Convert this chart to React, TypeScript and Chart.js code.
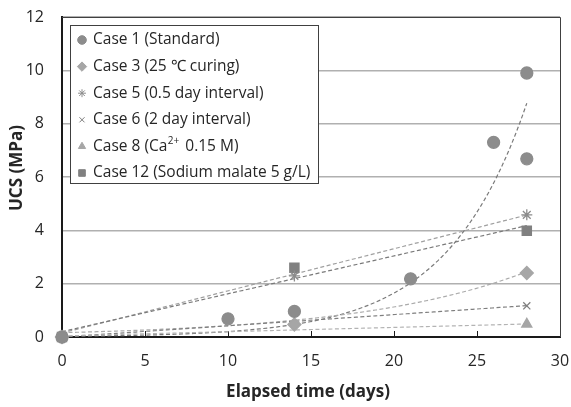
import React, { useEffect, useRef } from "react";
import { Chart, registerables } from "chart.js";
import { drawPoint } from "chart.js/helpers";

Chart.register(...registerables);

// ---- data ----
const seriesLabels = [
  "Case 1 (Standard)",
  "Case 3 (25 \u2103 curing)",
  "Case 5 (0.5 day interval)",
  "Case 6 (2 day interval)",
  "Case 8 (Ca2+ 0.15 M)",
  "Case 12 (Sodium malate 5 g/L)",
];
const case1Days = [0, 10, 14, 21, 26, 28, 28];
const case1Ucs = [0, 0.68, 0.96, 2.18, 7.3, 9.9, 6.68];
const case3Days = [0, 14, 28];
const case3Ucs = [0, 0.47, 2.4];
const case5Days = [0, 14, 28];
const case5Ucs = [0, 2.29, 4.58];
const case6Days = [0, 28];
const case6Ucs = [0, 1.17];
const case8Days = [0, 28];
const case8Ucs = [0, 0.48];
const case12Days = [0, 14, 28];
const case12Ucs = [0, 2.6, 3.98];

// trend lines (Excel-style): type, coefficient a, coefficient b  (exp: a*e^(b*x); lin: a + b*x)
const trendTypes = ["exp", "exp", "lin", "lin", "lin", "lin"];
const trendA = [0.0252, 0.162, 0.15, 0.0, 0.04, 0.2];
const trendB = [0.209, 0.097, 0.158, 0.042, 0.016, 0.142];
const trendEnd = 28;

const xTicks = [0, 5, 10, 15, 20, 25, 30];

// ---- styles ----
const pointStyles = ["circle", "rectRot", "star", "crossRot", "triangle", "rect"];
const pointColors = ["#8c8c8c", "#a6a6a6", "#8c8c8c", "#7f7f7f", "#a6a6a6", "#808080"];
const pointRadii = [6, 6.5, 5.5, 5, 5.8, 6.5];
const trendColors = ["#7a7a7a", "#ababab", "#a0a0a0", "#7f7f7f", "#b3b3b3", "#7a7a7a"];
const FONT = "'Open Sans', Lato, sans-serif";
const TITLE_FONT = "'Open Sans', Lato, sans-serif";

const xsList = [case1Days, case3Days, case5Days, case6Days, case8Days, case12Days];
const ysList = [case1Ucs, case3Ucs, case5Ucs, case6Ucs, case8Ucs, case12Ucs];

const decorPlugin = {
  id: "decor",
  beforeDatasetsDraw(chart: any) {
    const { ctx, chartArea, scales } = chart;
    const xs = scales.x, ys = scales.y;
    ctx.save();
    // top & right border
    ctx.strokeStyle = "#404040";
    ctx.lineWidth = 1;
    ctx.beginPath();
    ctx.moveTo(chartArea.left, Math.round(chartArea.top) + 0.5);
    ctx.lineTo(Math.round(chartArea.right) + 0.5, Math.round(chartArea.top) + 0.5);
    ctx.lineTo(Math.round(chartArea.right) + 0.5, chartArea.bottom);
    ctx.stroke();
    // inward x ticks
    ctx.strokeStyle = "#1a1a1a";
    ctx.lineWidth = 1;
    xTicks.slice(1, -1).forEach((t) => {
      const px = Math.round(xs.getPixelForValue(t)) + 0.5;
      ctx.beginPath();
      ctx.moveTo(px, chartArea.bottom);
      ctx.lineTo(px, chartArea.bottom - 6);
      ctx.stroke();
    });
    // trend lines
    ctx.beginPath();
    ctx.rect(chartArea.left, chartArea.top, chartArea.right - chartArea.left, chartArea.bottom - chartArea.top);
    ctx.clip();
    ctx.setLineDash([4, 2.5]);
    ctx.lineWidth = 1.2;
    for (let i = 0; i < trendTypes.length; i++) {
      ctx.strokeStyle = trendColors[i];
      ctx.beginPath();
      const steps = 120;
      for (let s = 0; s <= steps; s++) {
        const x = (trendEnd * s) / steps;
        const y = trendTypes[i] === "exp" ? trendA[i] * Math.exp(trendB[i] * x) : trendA[i] + trendB[i] * x;
        const px = xs.getPixelForValue(x), py = ys.getPixelForValue(y);
        if (s === 0) ctx.moveTo(px, py);
        else ctx.lineTo(px, py);
      }
      ctx.stroke();
    }
    ctx.restore();
  },
  afterDraw(chart: any) {
    const { ctx } = chart;
    ctx.save();
    // axis titles
    ctx.fillStyle = "#262626";
    ctx.font = `bold 17px ${TITLE_FONT}`;
    ctx.textAlign = "center";
    ctx.textBaseline = "middle";
    ctx.save();
    ctx.translate(17, 168);
    ctx.rotate(-Math.PI / 2);
    ctx.fillText("UCS (MPa)", 0, 0);
    ctx.restore();
    ctx.font = `bold 17px ${TITLE_FONT}`;
    ctx.fillText("Elapsed time (days)", 308, 392);

    // legend
    const bx = 70.5, by = 25.5, bw = 248, bh = 158;
    ctx.fillStyle = "#ffffff";
    ctx.fillRect(bx, by, bw, bh);
    ctx.strokeStyle = "#404040";
    ctx.lineWidth = 1;
    ctx.strokeRect(bx, by, bw, bh);
    ctx.textAlign = "left";
    ctx.textBaseline = "middle";
    for (let i = 0; i < seriesLabels.length; i++) {
      const y = 40 + i * 26.6;
      ctx.fillStyle = pointColors[i];
      ctx.strokeStyle = pointColors[i];
      drawPoint(ctx, { pointStyle: pointStyles[i], radius: pointRadii[i] * 0.72, borderWidth: 1.1, rotation: 0 } as any, 82, y);
      ctx.fillStyle = "#262626";
      ctx.font = `15.5px ${FONT}`;
      const label = seriesLabels[i];
      if (label.indexOf("Ca2+") >= 0) {
        const pre = "Case 8 (Ca";
        let x = 93;
        ctx.fillText(pre, x, y);
        x += ctx.measureText(pre).width + 0.5;
        ctx.font = `10px ${FONT}`;
        ctx.fillText("2+", x, y - 5);
        x += ctx.measureText("2+").width + 6;
        ctx.font = `15.5px ${FONT}`;
        ctx.fillText("0.15 M)", x, y);
      } else {
        ctx.fillText(label, 93, y);
      }
    }
    ctx.restore();
  },
};

export default function App() {
  const ref = useRef<HTMLCanvasElement>(null);
  useEffect(() => {
    if (!ref.current) return;
    const datasets = seriesLabels.map((label, i) => ({
      label,
      data: xsList[i].map((x, j) => ({ x, y: ysList[i][j] })),
      pointStyle: pointStyles[i] as any,
      pointRadius: pointRadii[i],
      pointBackgroundColor: pointColors[i],
      pointBorderColor: pointColors[i],
      pointBorderWidth: 1.3,
      showLine: false,
      clip: false as any,
    }));
    const chart = new Chart(ref.current, {
      type: "scatter",
      data: { datasets },
      plugins: [decorPlugin],
      options: {
        animation: false,
        responsive: false,
        layout: { padding: { top: 17, right: 11, left: 0, bottom: 0 } },
        plugins: { legend: { display: false }, tooltip: { enabled: false } },
        scales: {
          x: {
            type: "linear",
            min: 0,
            max: 30,
            afterBuildTicks: (scale: any) => {
              scale.ticks = xTicks.map((v) => ({ value: v }));
            },
            afterFit: (scale: any) => {
              scale.height = 70;
              scale.paddingLeft = 0;
              scale.paddingRight = 0;
            },
            ticks: { font: { family: FONT, size: 16 }, color: "#262626", padding: 15, maxRotation: 0 },
            grid: { display: false, drawTicks: false },
            border: { display: true, color: "#1a1a1a", width: 2 },
          },
          y: {
            type: "linear",
            min: 0,
            max: 12,
            ticks: { stepSize: 2, font: { family: FONT, size: 16 }, color: "#262626", padding: 18 },
            afterFit: (scale: any) => {
              scale.width = 62;
              scale.paddingTop = 0;
              scale.paddingBottom = 0;
            },
            grid: { color: "#b0b0b0", lineWidth: 1.5, drawTicks: false },
            border: { display: true, color: "#1a1a1a", width: 2 },
          },
        },
      },
    });
    return () => chart.destroy();
  }, []);
  return (
    <div style={{ position: "fixed", left: 0, top: 0, width: 571, height: 407, background: "#fff" }}>
      <canvas ref={ref} width={571} height={407} style={{ display: "block" }} />
    </div>
  );
}
